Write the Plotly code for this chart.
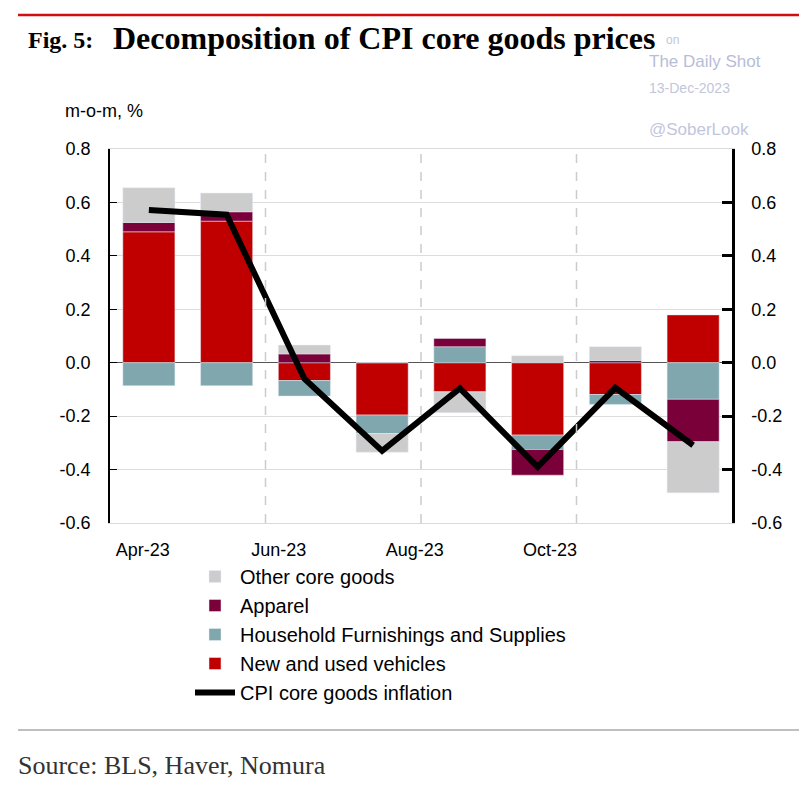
import plotly.graph_objects as go

months = ["Apr-23", "May-23", "Jun-23", "Jul-23", "Aug-23", "Sep-23", "Oct-23", "Nov-23"]
vehicles = [0.49, 0.53, -0.067, -0.196, -0.109, -0.271, -0.119, 0.179]
furnishings = [-0.086, -0.086, -0.058, -0.069, 0.06, -0.054, -0.037, -0.137]
apparel = [0.035, 0.035, 0.033, 0.0, 0.031, -0.096, 0.008, -0.159]
other = [0.13, 0.07, 0.033, -0.07, -0.078, 0.026, 0.052, -0.191]
core = [0.572, 0.554, -0.06, -0.33, -0.096, -0.39, -0.094, -0.309]
tick_labels = ["Apr-23", "Jun-23", "Aug-23", "Oct-23"]
y_ticks = [0.8, 0.6, 0.4, 0.2, 0.0, -0.2, -0.4, -0.6]
y_tick_text = ["0.8", "0.6", "0.4", "0.2", "0.0", "-0.2", "-0.4", "-0.6"]

# page body has an 8px margin, so the figure is drawn 8px smaller and offset
OFF = 8
W, H = 807 - OFF, 791 - OFF
L, R, T, B = 110, 732, 149, 523  # plot area in screenshot coordinates
def px(x):
    return (x - L) / (R - L)
def py(y):
    return (B - y) / (B - T)

idx = list(range(len(months)))

fig = go.Figure()
fig.add_trace(go.Scatter(x=idx, y=core, name="CPI core goods inflation", mode="lines",
                         line=dict(color="black", width=6), yaxis="y2"))
fig.add_trace(go.Bar(x=idx, y=vehicles, name="New and used vehicles", marker_color="#C00000", width=0.67))
fig.add_trace(go.Bar(x=idx, y=furnishings, name="Household Furnishings and Supplies", marker_color="#7FA7AD", width=0.67))
fig.add_trace(go.Bar(x=idx, y=apparel, name="Apparel", marker_color="#7A0039", width=0.67))
fig.add_trace(go.Bar(x=idx, y=other, name="Other core goods", marker_color="#CCCCCC", width=0.67))

for t in fig.data:
    t.hoverinfo = "skip"

fig.update_layout(
    width=W, height=H,
    margin=dict(l=L - OFF, r=807 - R, t=T - OFF, b=791 - B),
    paper_bgcolor="white", plot_bgcolor="white",
    barmode="relative",
    font=dict(family="Liberation Sans, Arial", size=18, color="black"),
    xaxis=dict(range=[-0.5, 7.5], tickmode="array", tickvals=[-0.08, 1.67, 3.42, 5.16],
               ticktext=tick_labels, showgrid=False, zeroline=False, ticks="",
               showline=True, linecolor="#d9d9d9", linewidth=1, mirror=True,
               ticklabelstandoff=10, tickfont=dict(size=18)),
    yaxis=dict(range=[-0.6, 0.8], tickmode="array", tickvals=y_ticks, ticktext=y_tick_text,
               showgrid=True, gridcolor="#dcdcdc", gridwidth=1,
               zeroline=True, zerolinecolor="#555555", zerolinewidth=1,
               showline=True, linecolor="black", linewidth=1.5,
               ticks="inside", ticklen=7, tickcolor="black", tickwidth=1,
               ticklabelstandoff=14, tickfont=dict(size=18)),
    yaxis2=dict(range=[-0.6, 0.8], overlaying="y", side="right", tickmode="array",
                tickvals=y_ticks, ticktext=y_tick_text, showgrid=False, zeroline=False,
                showline=True, linecolor="black", linewidth=2.5,
                ticks="inside", ticklen=10, tickcolor="black", tickwidth=2.5,
                ticklabelstandoff=13, tickfont=dict(size=18)),
    legend=dict(x=px(190), y=py(557), xanchor="left", yanchor="top",
                traceorder="reversed", font=dict(size=20), bgcolor="rgba(0,0,0,0)",
                tracegroupgap=0, itemwidth=40),
    showlegend=True,
)

# vertical dashed separators between two-month blocks
for xv in [1.5, 3.5, 5.5]:
    fig.add_vline(x=xv, line=dict(color="#cccccc", width=1.5, dash="dash"))

# decorative rules and right frame edge
fig.add_shape(type="line", xref="paper", yref="paper", x0=px(805), x1=px(805), y0=py(791), y1=py(8),
              line=dict(color="#c8c8c8", width=1.5))
fig.add_shape(type="line", xref="paper", yref="paper", x0=px(18), x1=px(806), y0=py(15), y1=py(15),
              line=dict(color="#D01010", width=2.5))
fig.add_shape(type="line", xref="paper", yref="paper", x0=px(18), x1=px(806), y0=py(730), y1=py(730),
              line=dict(color="#aaaaaa", width=1.5))

anns = [
    dict(text="<b>Fig. 5:</b>", x=px(26), y=py(40), font=dict(family="Liberation Serif", size=24, color="black")),
    dict(text="<b>Decomposition of CPI core goods prices</b>", x=px(111), y=py(38),
         font=dict(family="Liberation Serif", size=32, color="black")),
    dict(text="on", x=px(664), y=py(40), font=dict(size=12, color="#c2c6dc")),
    dict(text="The Daily Shot", x=px(647), y=py(62), font=dict(size=17, color="#b8bdd6")),
    dict(text="13-Dec-2023", x=px(647), y=py(88), font=dict(size=14, color="#c2c6dc")),
    dict(text="@SoberLook", x=px(647), y=py(129), font=dict(size=17, color="#c2c6dc")),
    dict(text="m-o-m, %", x=px(63), y=py(111), font=dict(size=18, color="black")),
    dict(text="Source: BLS, Haver, Nomura", x=px(16), y=py(765),
         font=dict(family="Liberation Serif", size=26, color="#333333")),
]
for a in anns:
    fig.add_annotation(xref="paper", yref="paper", xanchor="left", yanchor="middle",
                       showarrow=False, **a)

fig.write_html("out.html")
